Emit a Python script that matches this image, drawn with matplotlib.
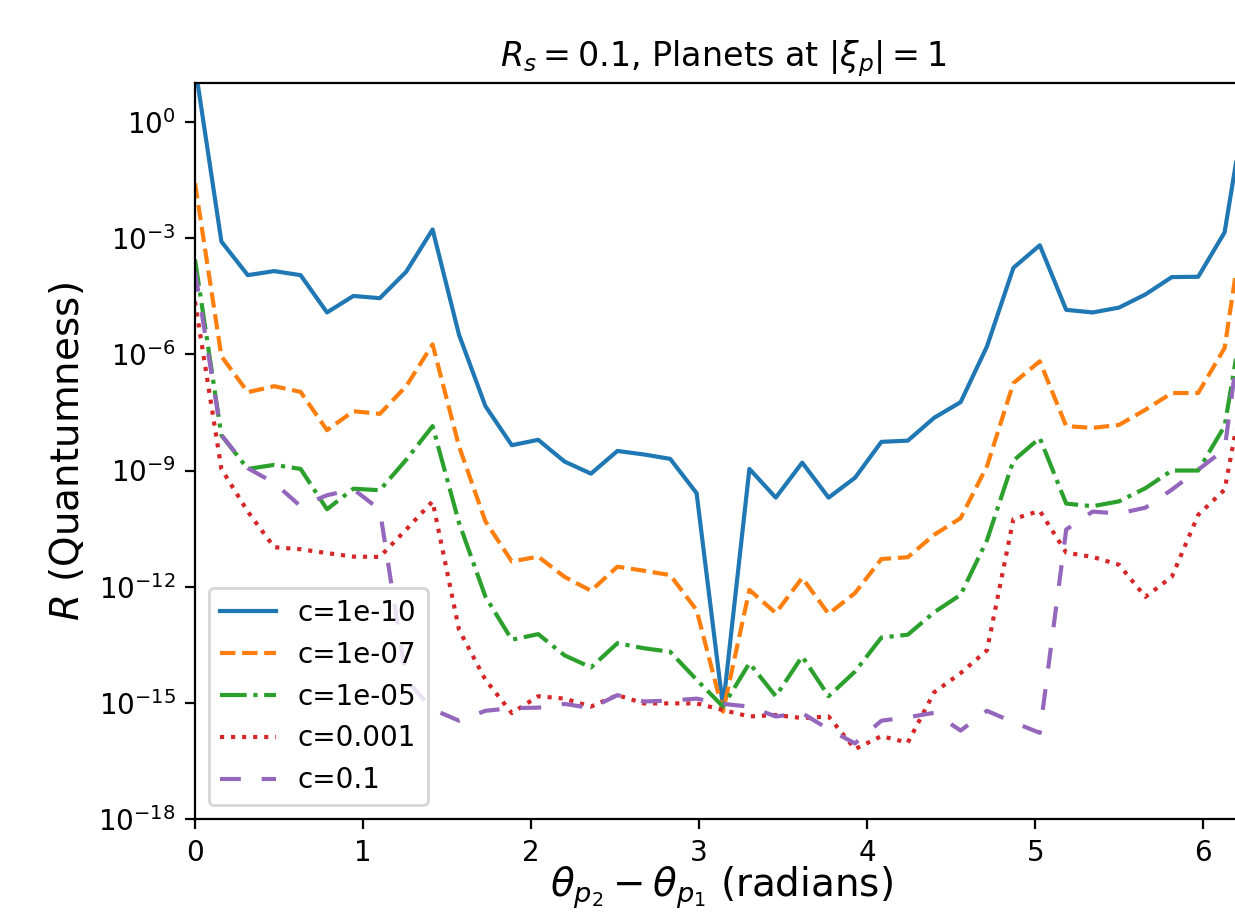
import numpy as np
import matplotlib
matplotlib.use("Agg")
import matplotlib.pyplot as plt
from matplotlib.ticker import NullLocator

# x grid: 41 samples of the angle difference from 0 to 2*pi
theta = np.linspace(0, 2 * np.pi, 41)

labels = ["c=1e-10", "c=1e-07", "c=1e-05", "c=0.001", "c=0.1"]

R_c1e10 = [2.8e1, 8.1e-4, 1.1e-4, 1.4e-4, 1.1e-4, 1.2e-5, 3.2e-5, 2.8e-5, 1.35e-4, 1.66e-3,
           3.2e-6, 4.6e-8, 4.5e-9, 6.2e-9, 1.7e-9, 8.3e-10, 3.2e-9, 2.6e-9, 2.0e-9, 2.6e-10,
           7.9e-16, 1.1e-9, 2.0e-10, 1.6e-9, 2.0e-10, 6.5e-10, 5.5e-9, 5.9e-9, 2.3e-8, 5.8e-8,
           1.6e-6, 1.7e-4, 6.5e-4, 1.4e-5, 1.2e-5, 1.6e-5, 3.5e-5, 9.8e-5, 1.0e-4, 1.4e-3, 2.0e1]

R_c1e07 = [2.6e-2, 8.9e-7, 1.05e-7, 1.5e-7, 1.07e-7, 1.1e-8, 3.4e-8, 2.9e-8, 1.5e-7, 1.8e-6,
           4.2e-9, 4.9e-11, 4.5e-12, 6.0e-12, 1.8e-12, 7.9e-13, 3.3e-12, 2.6e-12, 2.0e-12, 2.5e-13,
           6.0e-16, 8.3e-13, 2.1e-13, 1.7e-12, 2.0e-13, 6.9e-13, 5.2e-12, 5.8e-12, 2.2e-11, 5.9e-11,
           1.3e-9, 1.8e-7, 6.6e-7, 1.4e-8, 1.26e-8, 1.5e-8, 3.7e-8, 1.0e-7, 1.0e-7, 1.45e-6, 5.0e-2]

R_c1e05 = [2.8e-4, 8.1e-9, 1.1e-9, 1.4e-9, 1.1e-9, 1.0e-10, 3.4e-10, 3.1e-10, 1.9e-9, 1.4e-8,
           4.5e-11, 5.6e-13, 4.3e-14, 6.0e-14, 1.7e-14, 8.3e-15, 3.5e-14, 2.6e-14, 2.1e-14, 4.0e-15,
           8.1e-16, 1.07e-14, 1.5e-15, 1.6e-14, 1.5e-15, 6.5e-15, 4.9e-14, 5.8e-14, 2.2e-13, 6.2e-13,
           1.6e-11, 1.8e-9, 6.9e-9, 1.4e-10, 1.2e-10, 1.6e-10, 3.5e-10, 1.0e-9, 1.0e-9, 1.4e-8, 1.5e-4]

R_c1e03 = [2.3e-5, 1.1e-9, 8.7e-11, 1.05e-11, 9.3e-12, 7.4e-12, 6.0e-12, 5.9e-12, 3.0e-11, 1.6e-10,
           7.8e-14, 4.0e-15, 5.5e-16, 1.5e-15, 1.3e-15, 8.1e-16, 1.6e-15, 9.8e-16, 9.8e-16, 9.8e-16,
           6.6e-16, 4.5e-16, 4.9e-16, 4.1e-16, 4.5e-16, 6.5e-17, 1.4e-16, 9.5e-17, 1.9e-15, 5.9e-15,
           2.3e-14, 5.6e-11, 9.1e-11, 7.6e-12, 5.9e-12, 3.7e-12, 5.5e-13, 1.8e-12, 7.2e-11, 3.2e-10, 1.3e-6]

R_c1e01 = [1.4e-4, 8.3e-9, 1.15e-9, 4.8e-10, 1.2e-10, 2.3e-10, 3.3e-10, 9.8e-11, 4.0e-15, 6.9e-16,
           3.5e-16, 6.3e-16, 7.4e-16, 7.6e-16, 9.5e-16, 7.4e-16, 1.6e-15, 1.1e-15, 1.15e-15, 1.3e-15,
           9.5e-16, 8.1e-16, 4.5e-16, 5.5e-16, 2.1e-16, 9.1e-17, 3.5e-16, 4.3e-16, 5.6e-16, 1.95e-16,
           6.3e-16, 3.2e-16, 1.7e-16, 3.0e-11, 8.7e-11, 7.8e-11, 1.1e-10, 3.2e-10, 1.05e-9, 3.5e-9, 4.5e-4]

series = [R_c1e10, R_c1e07, R_c1e05, R_c1e03, R_c1e01]
styles = ["-", "--", "-.", ":", (0, (5, 5))]
colors = ["C0", "C1", "C2", "C3", "C4"]

W, H, DPI = 1235, 916, 200
fig = plt.figure(figsize=(W / DPI, H / DPI), dpi=DPI)
ax = fig.add_axes([195 / W, (H - 819.3) / H, 1056 / W, 736.3 / H])

for y, ls, col, lab in zip(series, styles, colors, labels):
    ax.plot(theta, y, linestyle=ls, color=col, label=lab)

ax.set_yscale("log")
ax.set_xlim(0, 2 * np.pi)
ax.set_ylim(1e-18, 1e1)
ax.set_yticks([1e-18, 1e-15, 1e-12, 1e-9, 1e-6, 1e-3, 1e0])
ax.yaxis.set_minor_locator(NullLocator())
ax.set_xticks([0, 1, 2, 3, 4, 5, 6])

ax.set_title(r"$R_s = 0.1$, Planets at $|\xi_p| = 1$", fontsize=12)
ax.set_xlabel(r"$\theta_{p_2} - \theta_{p_1}$ (radians)", fontsize=14)
ax.xaxis.set_label_coords(0.4986, -0.0605)
ax.set_ylabel(r"$R$ (Quantumness)", fontsize=14)
ax.legend(loc="lower left")

fig.savefig("out.png", dpi=DPI)
